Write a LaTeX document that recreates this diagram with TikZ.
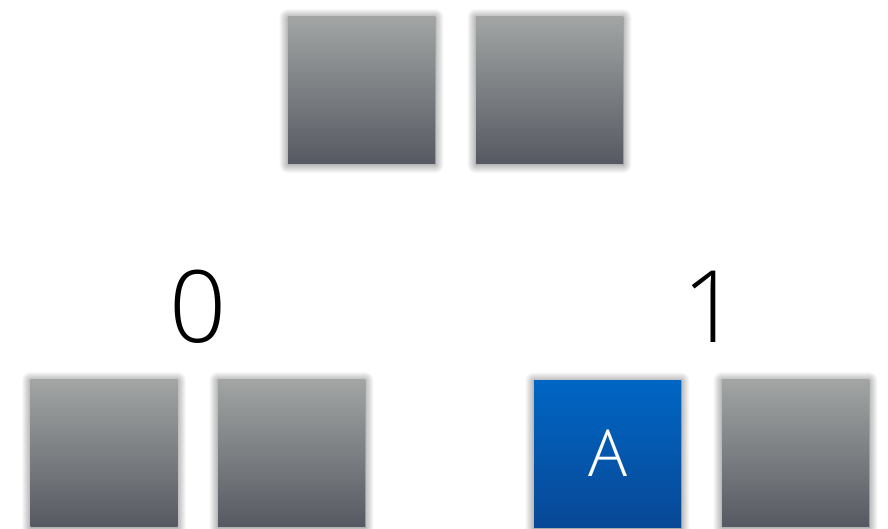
\documentclass[tikz,border=0pt]{standalone}
\usepackage{fontspec}
\setmainfont{Open Sans}[UprightFont=* Light]
\usetikzlibrary{shadows.blur}
\definecolor{gtop}{RGB}{162,165,164}
\definecolor{gbot}{RGB}{86,89,97}
\definecolor{btop}{RGB}{0,102,196}
\definecolor{bbot}{RGB}{8,72,150}
\tikzset{
  cell/.style={minimum width=147pt, minimum height=147pt, inner sep=0pt,
    blur shadow={shadow xshift=0pt, shadow yshift=-1pt, shadow blur radius=9pt, shadow blur steps=12, shadow opacity=60}},
  graycell/.style={cell, top color=gtop, bottom color=gbot},
  bluecell/.style={cell, top color=btop, bottom color=bbot, text=white, font=\fontsize{65}{65}\selectfont},
  lbl/.style={inner sep=0pt, font=\fontsize{100}{100}\selectfont}
}
\begin{document}
\begin{tikzpicture}[x=1pt,y=-1pt]
\useasboundingbox (0,0) rectangle (888,529);
\node[graycell] (t1) at (361.5,90) {};
\node[graycell] (t2) at (549.5,90) {};
\node[graycell] (b1) at (104,453) {};
\node[graycell] (b2) at (291.5,453) {};
\node[bluecell] (b3) at (607.5,453.5) {A};
\node[graycell] (b4) at (795.5,453) {};
\node[lbl] (l0) at (198.5,306.5) {0};
\node[lbl] (l1) at (711,306.5) {1};
\end{tikzpicture}
\end{document}
